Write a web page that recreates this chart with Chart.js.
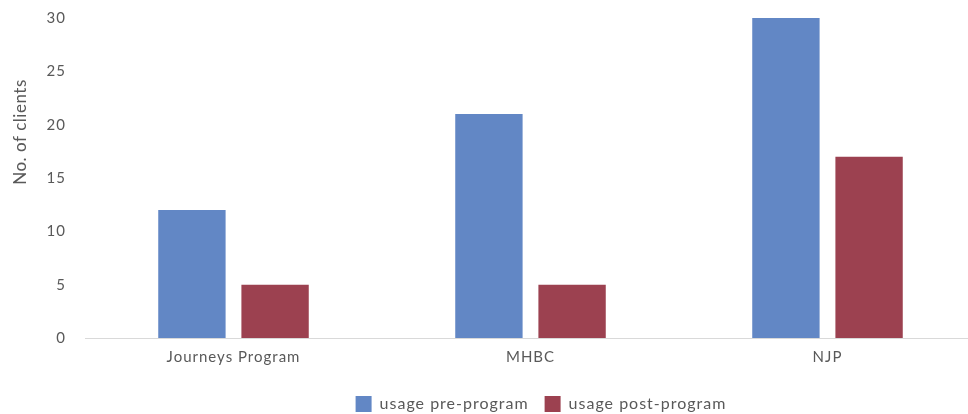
<!DOCTYPE html>
<html>
<head>
<meta charset="utf-8">
<script src="https://cdn.jsdelivr.net/npm/chart.js@4/dist/chart.umd.min.js"></script>
<style>
  html, body { margin: 0; padding: 0; background: #fff; overflow: hidden; }
  #wrap { width: 976px; height: 414px; }
</style>
</head>
<body>
<div id="wrap"><canvas id="usage-chart"></canvas></div>
<script>
const categories = ["Journeys Program", "MHBC", "NJP"];
const preProgram = [12, 21, 30];
const postProgram = [5, 5, 17];
const seriesNames = ["usage pre-program", "usage post-program"];
const yTitle = "No. of clients";

const textColor = "#595959";
const fontFamily = "Lato, 'Noto Sans', sans-serif";

// wider letter spacing, the original font is a wide geometric face
const spacingPlugin = {
    id: "spacing",
    beforeUpdate: function(chart) { chart.ctx.letterSpacing = "1px"; },
    beforeDraw: function(chart) { chart.ctx.letterSpacing = "1px"; },
    afterLayout: function(chart) {
        // legend is centred a little right of the canvas middle
        chart.legend.left += 53;
        chart.legend.right += 53;
    }
};

// y title sits a bit above the middle of the axis in the original
const yTitlePlugin = {
    id: "yTitle",
    afterDraw: function(chart) {
        const ctx = chart.ctx;
        ctx.save();
        ctx.letterSpacing = "0.5px";
        ctx.font = "17px " + fontFamily;
        ctx.fillStyle = textColor;
        ctx.textAlign = "center";
        ctx.textBaseline = "middle";
        ctx.translate(21, 132);
        ctx.rotate(-Math.PI / 2);
        ctx.fillText(yTitle, 0, 0);
        ctx.restore();
    }
};

new Chart(document.getElementById("usage-chart"), {
    type: "bar",
    data: {
        labels: categories,
        datasets: [{
            label: seriesNames[0],
            data: preProgram,
            backgroundColor: "#6287c5"
        }, {
            label: seriesNames[1],
            data: postProgram,
            backgroundColor: "#9c4150"
        }]
    },
    plugins: [spacingPlugin, yTitlePlugin],
    options: {
        responsive: true,
        maintainAspectRatio: false,
        animation: false,
        categoryPercentage: 0.56,
        barPercentage: 0.81,
        layout: { padding: { top: 18, left: 0, right: 0, bottom: -8 } },
        plugins: {
            tooltip: { enabled: false },
            legend: {
                position: "bottom",
                labels: {
                    boxWidth: 16,
                    boxHeight: 16,
                    padding: 16,
                    color: textColor,
                    font: { family: fontFamily, size: 16 }
                }
            }
        },
        scales: {
            x: {
                grid: { display: false },
                border: { display: true, color: "#d9d9d9", width: 1 },
                ticks: {
                    color: textColor,
                    padding: 2,
                    font: { family: fontFamily, size: 15 }
                },
                afterFit: function(scale) { scale.height += 12; }
            },
            y: {
                min: 0,
                max: 30,
                grid: { display: false },
                border: { display: false },
                ticks: {
                    stepSize: 5,
                    padding: 11,
                    color: textColor,
                    font: { family: fontFamily, size: 15 }
                },
                afterFit: function(scale) {
                    scale.width = 85;
                    scale.paddingTop = 0;
                }
            }
        }
    }
});
</script>
</body>
</html>
